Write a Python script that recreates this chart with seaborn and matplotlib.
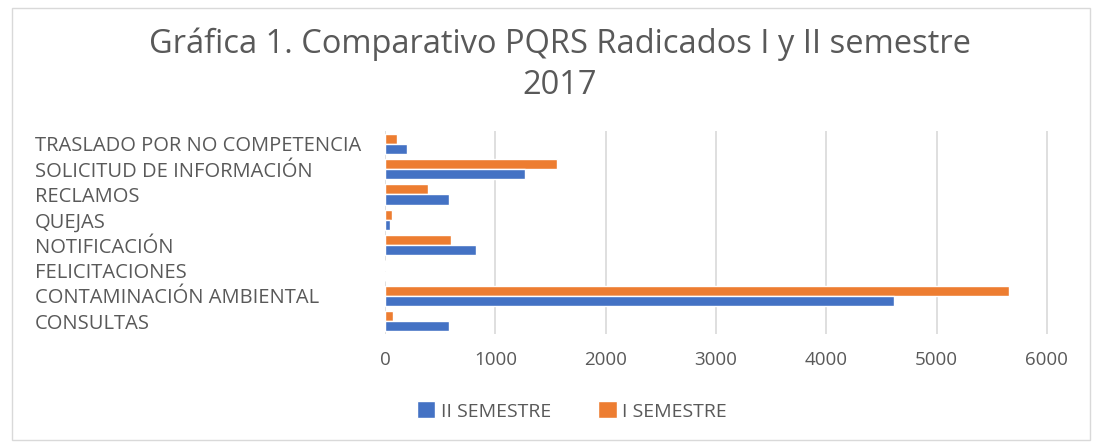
import matplotlib
matplotlib.use("Agg")
import matplotlib.pyplot as plt
import seaborn as sns
import pandas as pd
from matplotlib.patches import Rectangle

categories = ["TRASLADO POR NO COMPETENCIA", "SOLICITUD DE INFORMACIÓN", "RECLAMOS",
              "QUEJAS", "NOTIFICACIÓN", "FELICITACIONES", "CONTAMINACIÓN AMBIENTAL",
              "CONSULTAS"]
sem_1 = [113, 1560, 393, 65, 601, 3, 5655, 77]
sem_2 = [196, 1268, 577, 45, 827, 2, 4615, 583]
series = ["I SEMESTRE", "II SEMESTRE"]
colors = {"I SEMESTRE": "#ED7D31", "II SEMESTRE": "#4472C4"}

df = pd.DataFrame({
    "categoria": categories * 2,
    "valor": sem_1 + sem_2,
    "serie": [series[0]] * len(categories) + [series[1]] * len(categories),
})

sns.set_theme(style="white")
plt.rcParams["font.family"] = ["Open Sans", "DejaVu Sans"]
text_color = "#595959"

fig = plt.figure(figsize=(10.94, 4.45), dpi=100)
ax = fig.add_axes([385 / 1094, 1 - 334 / 445, (1080 - 385) / 1094, (334 - 131) / 445])

sns.barplot(data=df, y="categoria", x="valor", hue="serie", order=categories,
            hue_order=series, palette=colors, width=0.8, ax=ax, saturation=1)

ax.set_xlim(0, 6300)
ax.set_xticks(range(0, 7000, 1000))
ax.xaxis.grid(True, color="#d9d9d9", linewidth=1.2)
ax.set_axisbelow(True)
for s in ax.spines.values():
    s.set_visible(False)
ax.set_xlabel("")
ax.set_ylabel("")
ax.tick_params(axis="x", labelsize=13.5, labelcolor=text_color, length=0, pad=12)
ax.tick_params(axis="y", labelsize=14.5, labelcolor=text_color, length=0, pad=252)
for lbl in ax.get_yticklabels():
    lbl.set_horizontalalignment("left")

# legend: II SEMESTRE first, as in the reference
handles, labels = ax.get_legend_handles_labels()
order = [labels.index("II SEMESTRE"), labels.index("I SEMESTRE")]
ax.legend([handles[i] for i in order], [labels[i] for i in order],
          loc="center", bbox_to_anchor=(572 / 1094, 1 - 411 / 445),
          bbox_transform=fig.transFigure, ncol=2, frameon=False,
          fontsize=14, labelcolor=text_color, handlelength=0.95, handleheight=0.95,
          handletextpad=0.3, columnspacing=2.4)

fig.text(560 / 1094, 1 - 44 / 445, "Gráfica 1. Comparativo PQRS Radicados I y II semestre",
         ha="center", va="center", fontsize=23.5, color=text_color)
fig.text(560 / 1094, 1 - 85 / 445, "2017",
         ha="center", va="center", fontsize=23.5, color=text_color)

fig.patches.append(Rectangle((12 / 1094, 1 - 440 / 445), (1090 - 12) / 1094, (440 - 8) / 445,
                             transform=fig.transFigure, fill=False,
                             edgecolor="#d9d9d9", linewidth=1))

fig.savefig("out.png", dpi=100, facecolor="white")
